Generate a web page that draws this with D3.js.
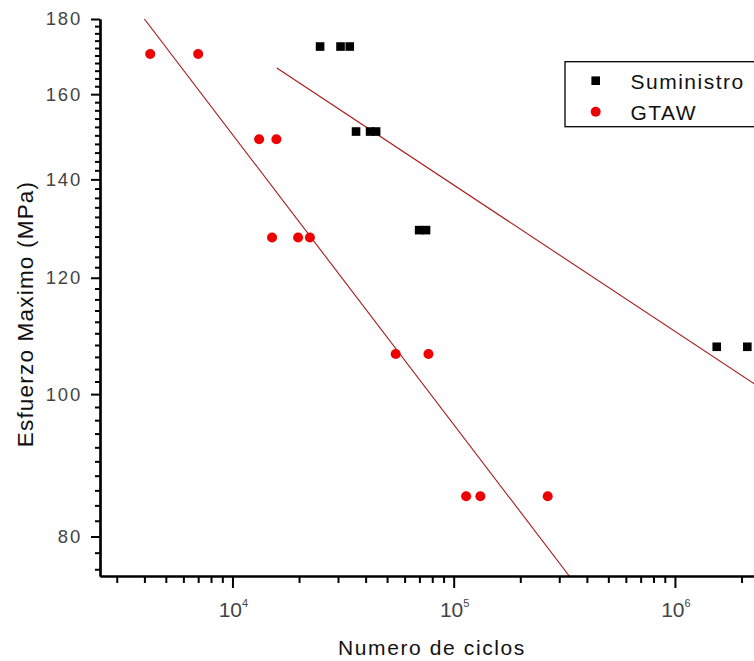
<!DOCTYPE html>
<html>
<head>
<meta charset="utf-8">
<script src="https://cdn.jsdelivr.net/npm/d3@7"></script>
<style>
  html, body { margin: 0; padding: 0; background: #fff; }
  svg { display: block; }
  text { font-family: "Liberation Sans", Arial, sans-serif; }
</style>
</head>
<body>
<svg id="chart" width="754" height="661"></svg>
<script>
// ---- data ----
const suministroN = [24900, 30800, 33900, 36200, 41900, 44600, 69800, 75000, 1545000, 2124000];
const suministroS = [172.4, 172.4, 172.4, 150.9, 150.9, 150.9, 129.3, 129.3, 107.7, 107.7];
const gtawN = [4250, 7000, 13200, 15800, 15100, 19800, 22400, 54700, 76900, 113800, 132000, 266000];
const gtawS = [170.4, 170.4, 149.1, 149.1, 127.8, 127.8, 127.8, 106.5, 106.5, 85.2, 85.2, 85.2];
const suministroFitN = [15870, 3000000];
const suministroFitS = [166.7, 98.9];
const gtawFitN = [4000, 333000];
const gtawFitS = [180, 75.2];
const yMajorTicks = [80, 100, 120, 140, 160, 180];
const xMajorTicks = [1e4, 1e5, 1e6];
const xMajorExp = ["4", "5", "6"];
const seriesNames = ["Suministro", "GTAW"];
const xTitle = "Numero de ciclos";
const yTitle = "Esfuerzo Maximo (MPa)";

(function () {
// ---- layout ----
const svg = d3.select("#chart");
const pLeft = 100, pRight = 780.5, pTop = 19, pBottom = 576;
const x = d3.scaleLog().domain([2520, 3e6]).range([pLeft, pRight]);
const y = d3.scaleLog().domain([75.2, 180]).range([pBottom, pTop]);

const yMinor = d3.range(76, 180, 2).filter(v => !yMajorTicks.includes(v));
const xMinor = [];
[1e3, 1e4, 1e5, 1e6].forEach(d => { for (let k = 2; k <= 9; k++) { const v = k * d; if (v >= 2520 && v <= 3e6) xMinor.push(v); } });

svg.append("defs").append("clipPath").attr("id", "plotclip")
  .append("rect").attr("x", pLeft).attr("y", pTop).attr("width", pRight - pLeft).attr("height", pBottom - pTop);

// ---- fit lines ----
const line = d3.line().x(d => x(d[0])).y(d => y(d[1]));
const plot = svg.append("g").attr("clip-path", "url(#plotclip)");
plot.append("path").datum(gtawFitN.map((n, i) => [n, gtawFitS[i]]))
  .attr("d", line).attr("fill", "none").attr("stroke", "#a81818").attr("stroke-width", 1.1);
plot.append("path").datum(suministroFitN.map((n, i) => [n, suministroFitS[i]]))
  .attr("d", line).attr("fill", "none").attr("stroke", "#a81818").attr("stroke-width", 1.1);

// ---- points ----
const sq = 8.6;
svg.append("g").selectAll("rect").data(suministroN.map((n, i) => [n, suministroS[i]])).join("rect")
  .attr("x", d => x(d[0]) - sq / 2).attr("y", d => y(d[1]) - sq / 2)
  .attr("width", sq).attr("height", sq).attr("fill", "#000");
svg.append("g").selectAll("circle").data(gtawN.map((n, i) => [n, gtawS[i]])).join("circle")
  .attr("cx", d => x(d[0])).attr("cy", d => y(d[1])).attr("r", 5).attr("fill", "#ee0000");

// ---- axes ----
const yAxisMinor = d3.axisLeft(y).tickValues(yMinor).tickFormat("").tickSize(5).tickSizeOuter(0);
const yAxisMajor = d3.axisLeft(y).tickValues(yMajorTicks).tickFormat(d3.format("d")).tickSize(9).tickPadding(9).tickSizeOuter(0);
const gy1 = svg.append("g").attr("transform", `translate(${pLeft},0)`).call(yAxisMinor);
const gy2 = svg.append("g").attr("transform", `translate(${pLeft},0)`).call(yAxisMajor);
const xAxisMinor = d3.axisBottom(x).tickValues(xMinor).tickFormat("").tickSize(7).tickSizeOuter(0);
const xAxisMajor = d3.axisBottom(x).tickValues(xMajorTicks).tickFormat("").tickSize(12).tickSizeOuter(0);
const gx1 = svg.append("g").attr("transform", `translate(0,${pBottom})`).call(xAxisMinor);
const gx2 = svg.append("g").attr("transform", `translate(0,${pBottom})`).call(xAxisMajor);
[gy1, gy2, gx1, gx2].forEach(g => {
  g.selectAll(".domain").attr("stroke", "#000").attr("stroke-width", 2.2);
  g.selectAll(".tick line").attr("stroke", "#000").attr("stroke-width", 2);
});
gy2.selectAll(".tick text").attr("font-size", 18.5).attr("letter-spacing", 1.8)
  .attr("fill", "#444").attr("font-family", "'Liberation Sans', Arial, sans-serif");

// x tick labels with superscripts
const xl = svg.append("g");
xMajorTicks.forEach((v, i) => {
  const t = xl.append("text").attr("x", x(v) + 1).attr("y", 617).attr("text-anchor", "middle")
    .attr("font-size", 21).attr("fill", "#444");
  t.append("tspan").text("10");
  t.append("tspan").attr("font-size", 11).attr("dy", -10).text(xMajorExp[i]);
});

// ---- titles ----
svg.append("text").attr("x", 432).attr("y", 655).attr("text-anchor", "middle")
  .attr("font-size", 21).attr("letter-spacing", 1.6).attr("fill", "#111").text(xTitle);
svg.append("text").attr("transform", "translate(33,314) rotate(-90)").attr("text-anchor", "middle")
  .attr("font-size", 22.5).attr("letter-spacing", 1.2).attr("fill", "#111").text(yTitle);

// ---- legend ----
const lg = svg.append("g");
lg.append("rect").attr("x", 565).attr("y", 61.7).attr("width", 200).attr("height", 65)
  .attr("fill", "#fff").attr("stroke", "#000").attr("stroke-width", 1.3);
lg.append("rect").attr("x", 595.7 - sq / 2).attr("y", 80.7 - sq / 2).attr("width", sq).attr("height", sq).attr("fill", "#000");
lg.append("circle").attr("cx", 595.7).attr("cy", 111.7).attr("r", 5).attr("fill", "#ee0000");
lg.append("text").attr("x", 630.5).attr("y", 88.5).attr("font-size", 21).attr("letter-spacing", 1.5).attr("fill", "#111").text(seriesNames[0]);
lg.append("text").attr("x", 630.5).attr("y", 120).attr("font-size", 21).attr("letter-spacing", 1.5).attr("fill", "#111").text(seriesNames[1]);
})();
</script>
</body>
</html>
